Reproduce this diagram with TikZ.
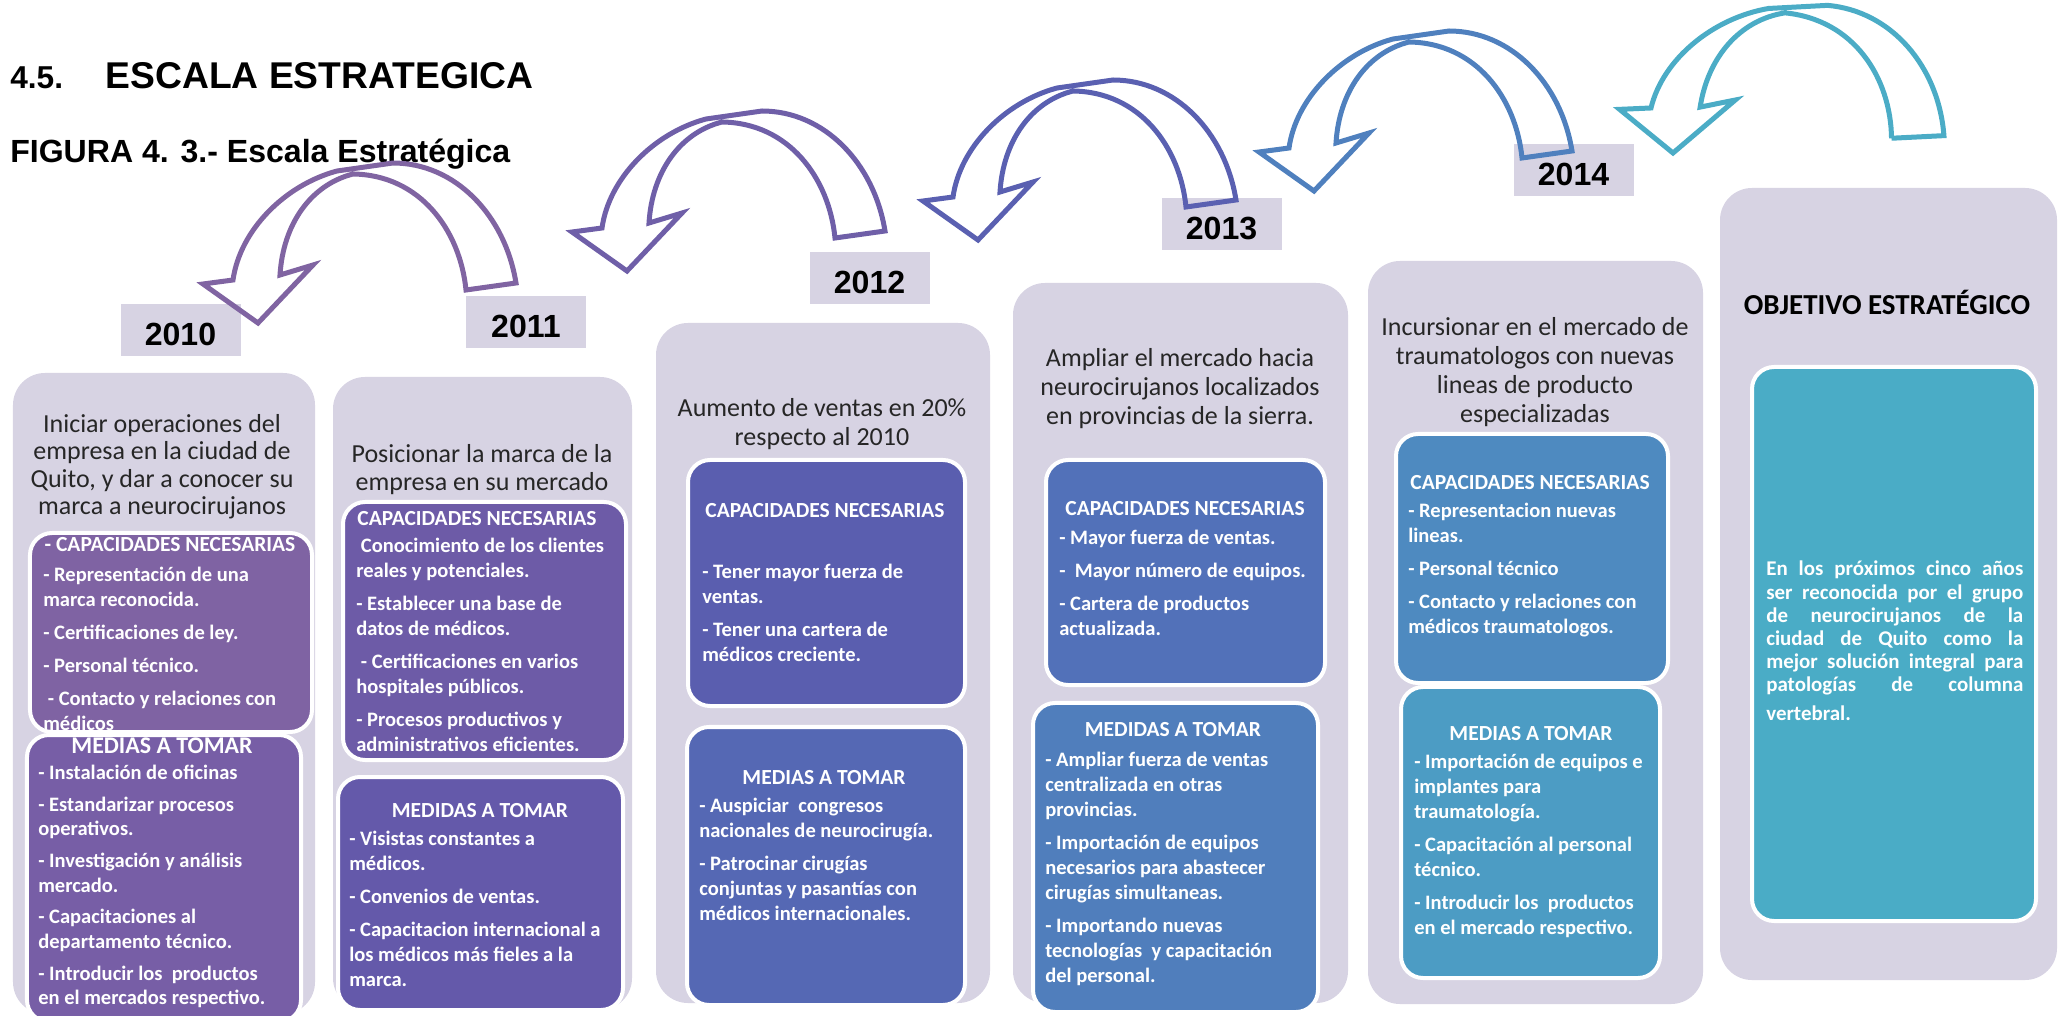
\documentclass[tikz,border=0pt]{standalone}
\usepackage{fontspec}
\setmainfont{Carlito}
\newfontfamily\arialfont{Liberation Sans}
\usetikzlibrary{positioning}

\definecolor{lav}{HTML}{D7D3E3}
\definecolor{capA}{HTML}{7F63A3}
\definecolor{medA}{HTML}{775EA6}
\definecolor{capB}{HTML}{6D5BA7}
\definecolor{medB}{HTML}{6459AA}
\definecolor{capC}{HTML}{5A5EAF}
\definecolor{medC}{HTML}{5568B4}
\definecolor{capD}{HTML}{5271B9}
\definecolor{medD}{HTML}{507EBC}
\definecolor{capE}{HTML}{4E8AC0}
\definecolor{medE}{HTML}{4C9CC4}
\definecolor{goalF}{HTML}{4AACC6}
\definecolor{arrowA}{HTML}{8064A2}
\definecolor{arrowB}{HTML}{6F5FA8}
\definecolor{arrowC}{HTML}{5A60B1}
\definecolor{arrowD}{HTML}{4F80BE}
\definecolor{arrowE}{HTML}{4BACC6}

\begin{document}
\begin{tikzpicture}[x=0.25mm, y=-0.25mm,
				panelbox/.style={rectangle, rounded corners=8mm, fill=lav, inner sep=0pt},
				capbox/.style={rectangle, rounded corners=5.5mm, fill=#1, draw=white, line width=1mm, inner sep=0pt},
				yearbox/.style={rectangle, fill=lav, minimum width=30mm, minimum height=13mm, text height=7.75mm, text depth=0pt, inner sep=0pt, font=\arialfont\bfseries\fontsize{22.8}{26}\selectfont},
				headtext/.style={anchor=base, inner sep=0pt, text=white, font=\bfseries\fontsize{#1}{18}\selectfont},
				headtext/.default=15.3,
				itemtext/.style={anchor=north west, align=left, inner sep=0pt, text=white, font=\bfseries\fontsize{14.6}{17.8}\selectfont, execute at begin node=\strut},
				goaltext/.style={anchor=north, align=center, inner sep=0pt, text=black!85, font=\fontsize{18.5}{#1}\selectfont, execute at begin node=\strut},
				goaltext/.default=20.6,
				pics/turnarrow/.style={code={
					\draw[line width=1.25mm, draw=#1] (208,-33) -- (258,-40)
						.. controls (247,-108) and (197,-160) .. (135,-160) -- (79,-152)
						.. controls (27,-138) and (-18,-93) .. (-25,-43)
						-- (-55,-39) -- (0,0) -- (55,-58) -- (22,-48)
						.. controls (25,-98) and (52,-138) .. (95,-149)
						.. controls (162,-148) and (202,-93) .. cycle;
				}}
			]
			\useasboundingbox (0,0) rectangle (2060,1016);
			% headings
			\node[anchor=base west, inner sep=0pt, font=\arialfont\bfseries\fontsize{22.5}{26}\selectfont] (secnum) at (10,89) {4.5.};
			\node[base right=10.5mm of secnum, inner sep=0pt, font=\arialfont\bfseries\fontsize{26.5}{30}\selectfont] (sectitle) {ESCALA ESTRATEGICA};
			\node[anchor=base west, inner sep=0pt, font=\arialfont\bfseries\fontsize{22.8}{26}\selectfont] (figcap) at (10,163) {FIGURA 4. 3.- Escala Estratégica};
			% 2010
			\node[panelbox, minimum width=75.5mm, minimum height=160.25mm] (p1) at (164,693.5) {};
			\node[goaltext=19.6] (t1) at (162,413.7) {Iniciar operaciones del\\empresa en la ciudad de\\Quito, y dar a conocer su\\marca a neurocirujanos};
			\node[capbox=capA, minimum width=70.5mm, minimum height=49.75mm] (cap1) at (171,632.5) {};
			\node[headtext] (cap1head) at (170,551) {- CAPACIDADES NECESARIAS};
			\node[itemtext] (cap1list) at (43,566.5) {- Representación de una\\marca reconocida.\\[5.7pt]- Certificaciones de ley.\\[5.7pt]- Personal técnico.\\[5.7pt]\ - Contacto y relaciones con\\médicos};
			\node[capbox=medA, minimum width=68.5mm, minimum height=71.75mm] (med1) at (164,878.5) {};
			\node[headtext=17] (med1head) at (162,753) {MEDIAS A TOMAR};
			\node[itemtext, font=\bfseries\fontsize{14.6}{17.4}\selectfont] (med1list) at (38,765) {- Instalación de oficinas\\[5.2pt]- Estandarizar procesos\\operativos.\\[5.2pt]- Investigación y análisis\\mercado.\\[5.2pt]- Capacitaciones al\\departamento técnico.\\[5.2pt]- Introducir los\ \ productos\\en el mercados respectivo.};
			% 2011
			\node[panelbox, minimum width=74.75mm, minimum height=158.25mm] (p2) at (482.5,693.5) {};
			\node[goaltext=19.6] (t2) at (482,444.5) {Posicionar la marca de la\\empresa en su mercado};
			\node[capbox=capB, minimum width=70.75mm, minimum height=64.5mm] (cap2) at (484.5,631) {};
			\node[headtext] (cap2head) at (477,525) {CAPACIDADES NECESARIAS};
			\node[itemtext] (cap2list) at (356,537.5) {\ Conocimiento de los clientes\\reales y potenciales.\\[5.7pt]- Establecer una base de\\datos de médicos.\\[5.7pt]\ - Certificaciones en varios\\hospitales públicos.\\[5.7pt]- Procesos productivos y\\administrativos eficientes.};
			\node[capbox=medB, minimum width=71.25mm, minimum height=58.25mm] (med2) at (480.5,893.5) {};
			\node[headtext] (med2head) at (480,817) {MEDIDAS A TOMAR};
			\node[itemtext] (med2list) at (349,830.5) {- Visistas constantes a\\médicos.\\[5.7pt]- Convenios de ventas.\\[5.7pt]- Capacitacion internacional a\\los médicos más fieles a la\\marca.};
			% 2012
			\node[panelbox, minimum width=83.5mm, minimum height=170mm] (p3) at (823,663) {};
			\node[goaltext] (t3) at (822,398) {Aumento de ventas en 20\%\\respecto al 2010};
			\node[capbox=capC, minimum width=69.25mm, minimum height=61.5mm] (cap3) at (826.5,583) {};
			\node[headtext] (cap3head) at (825,517) {CAPACIDADES NECESARIAS};
			\node[itemtext] (cap3list) at (702,564) {- Tener mayor fuerza de\\ventas.\\[5.7pt]- Tener una cartera de\\médicos creciente.};
			\node[capbox=medC, minimum width=69.5mm, minimum height=69.5mm] (med3) at (826,866) {};
			\node[headtext] (med3head) at (824,784) {MEDIAS A TOMAR};
			\node[itemtext] (med3list) at (699,797.5) {- Auspiciar\ \ congresos\\nacionales de neurocirugía.\\[5.7pt]- Patrocinar cirugías\\conjuntas y pasantías con\\médicos internacionales.};
			% 2013
			\node[panelbox, minimum width=83.75mm, minimum height=180mm] (p4) at (1180.5,643) {};
			\node[goaltext] (t4) at (1180,348.5) {Ampliar el mercado hacia\\neurocirujanos localizados\\en provincias de la sierra.};
			\node[capbox=capD, minimum width=69.75mm, minimum height=56.25mm] (cap4) at (1185.5,572.5) {};
			\node[headtext] (cap4head) at (1185,516) {CAPACIDADES NECESARIAS};
			\node[itemtext] (cap4list) at (1059,529.5) {- Mayor fuerza de ventas.\\[5.7pt]-\ \ Mayor número de equipos.\\[5.7pt]- Cartera de productos\\actualizada.};
			\node[capbox=medD, minimum width=71.25mm, minimum height=77.25mm] (med4) at (1175.5,857.5) {};
			\node[headtext] (med4head) at (1173,736) {MEDIDAS A TOMAR};
			\node[itemtext] (med4list) at (1045,751.5) {- Ampliar fuerza de ventas\\centralizada en otras\\provincias.\\[5.7pt]- Importación de equipos\\necesarios para abastecer\\cirugías simultaneas.\\[5.7pt]- Importando nuevas\\tecnologías\ \ y capacitación\\del personal.};
			% 2014
			\node[panelbox, minimum width=83.75mm, minimum height=185.75mm] (p5) at (1535.5,632.5) {};
			\node[goaltext] (t5) at (1535,317) {Incursionar en el mercado de\\traumatologos con nuevas\\lineas de producto\\especializadas};
			\node[capbox=capE, minimum width=68mm, minimum height=62.25mm] (cap5) at (1532,558.5) {};
			\node[headtext] (cap5head) at (1530,490) {CAPACIDADES NECESARIAS};
			\node[itemtext] (cap5list) at (1408,502.5) {- Representacion nuevas\\lineas.\\[5.7pt]- Personal técnico\\[5.7pt]- Contacto y relaciones con\\médicos traumatologos.};
			\node[capbox=medE, minimum width=64.75mm, minimum height=72.75mm] (med5) at (1530.5,832.5) {};
			\node[headtext] (med5head) at (1531,740) {MEDIAS A TOMAR};
			\node[itemtext] (med5list) at (1414,753.5) {- Importación de equipos e\\implantes para\\traumatología.\\[5.7pt]- Capacitación al personal\\técnico.\\[5.7pt]- Introducir los\ \ productos\\en el mercado respectivo.};
			% objetivo
			\node[panelbox, minimum width=84.25mm, minimum height=198mm] (p6) at (1888.5,584) {};
			\node[anchor=base, inner sep=0pt, font=\bfseries\fontsize{20.6}{24}\selectfont] (t6) at (1887,315) {OBJETIVO ESTRATÉGICO};
			\node[capbox=goalF, minimum width=71mm, minimum height=138.5mm] (goal) at (1894,644) {};
			\node[itemtext, font=\bfseries\fontsize{14.9}{16.4}\selectfont] (goallist) at (1766,561) {\makebox[64.25mm][s]{En los próximos cinco años}\\\makebox[64.25mm][s]{ser reconocida por el grupo}\\\makebox[64.25mm][s]{de neurocirujanos de la}\\\makebox[64.25mm][s]{ciudad de Quito como la}\\\makebox[64.25mm][s]{mejor solución integral para}\\\makebox[64.25mm][s]{patologías de columna}\\[4.3pt]vertebral.};
			% years
			\node[yearbox] (y2010) at (180.5,330) {2010};
			\node[yearbox] (y2011) at (526,322.5) {2011};
			\node[yearbox] (y2012) at (869.5,278.5) {2012};
			\node[yearbox] (y2013) at (1221.5,224.5) {2013};
			\node[yearbox] (y2014) at (1573.5,170.5) {2014};
			% arrows
			\pic (turnA) at (258,323) {turnarrow=arrowA};
			\pic (turnB) at (627,271) {turnarrow=arrowB};
			\pic (turnC) at (978,240) {turnarrow=arrowC};
			\pic (turnD) at (1314,191) {turnarrow=arrowD};
			\pic[xscale=1.04, rotate=-5] (turnE) at (1673,153) {turnarrow=arrowE};
			\end{tikzpicture}
\end{document}
